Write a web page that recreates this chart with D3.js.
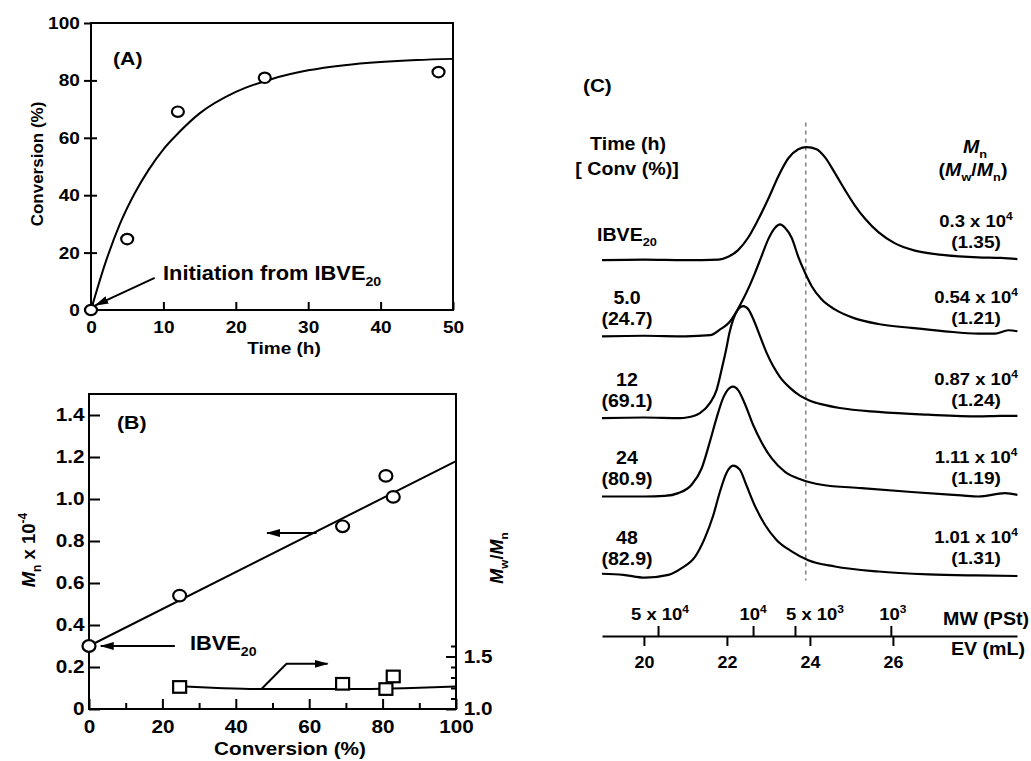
<!DOCTYPE html>
<html><head><meta charset="utf-8">
<script src="https://cdn.jsdelivr.net/npm/d3@7"></script>
<style>
html,body{margin:0;padding:0;background:#fff;}
svg{display:block;font-family:"Liberation Sans",Arial,Helvetica,sans-serif;font-weight:bold;}
</style></head><body>
<svg id="fig" width="1031" height="761"></svg>
<script>
// ---------- (A) conversion vs. time ----------
const timeH   = [0, 5, 12, 24, 48];
const convPct = [0, 24.7, 69.1, 80.9, 82.9];
const convFitT = [0, 2, 4, 6, 8, 10, 12, 15, 20, 25, 30, 35, 40, 45, 50];
const convFitY = [0, 16.5, 30, 40.5, 49, 56, 61.5, 68.5, 76, 80.5, 83.5, 85.3, 86.4, 87.1, 87.5];
const convTicksY = [0, 20, 40, 60, 80, 100];
const timeTicks  = [0, 10, 20, 30, 40, 50];

// ---------- (B) Mn and Mw/Mn vs. conversion ----------
const mnConv = [0, 24.7, 69.1, 80.9, 82.9];
const mnE4   = [0.30, 0.54, 0.87, 1.11, 1.01];
const mnFitX = [0, 100];
const mnFitY = [0.30, 1.18];
const pdiConv = [24.7, 69.1, 80.9, 82.9];
const pdiVal  = [1.21, 1.24, 1.19, 1.31];
const pdiFitX = [25, 35, 46, 60, 75, 88, 100];
const pdiFitY = [1.215, 1.20, 1.19, 1.19, 1.19, 1.20, 1.215];
const mnTicks    = [0, 0.2, 0.4, 0.6, 0.8, 1.0, 1.2, 1.4];
const convTicksX = [0, 20, 40, 60, 80, 100];
const convMinorX = [10, 30, 50, 70, 90];
const pdiTicks   = [1.0, 1.5];
const pdiMinor   = [1.1, 1.2, 1.3, 1.4, 1.6];

// ---------- (C) SEC traces, [elution volume (mL), normalised RI] ----------
const traceIBVE20 = [[18.99,0],[20,0.005],[21,0],[21.8,0.005],[22.03,0.03],[22.27,0.09],[22.51,0.2],[22.75,0.36],[23.0,0.55],[23.24,0.75],[23.48,0.91],[23.72,0.99],[23.92,1.01],[24.16,0.99],[24.36,0.92],[24.6,0.78],[24.84,0.63],[25.08,0.49],[25.33,0.37],[25.65,0.25],[26.05,0.15],[26.53,0.085],[27.25,0.045],[28.05,0.025],[28.6,0.02],[29.0,0.01]];
const trace5h  = [[18.99,0],[20,0.005],[21,0],[21.6,0.01],[21.83,0.06],[22.07,0.13],[22.23,0.22],[22.39,0.33],[22.52,0.43],[22.67,0.56],[22.84,0.72],[23.0,0.87],[23.16,0.97],[23.28,1.0],[23.4,0.97],[23.56,0.88],[23.72,0.71],[23.88,0.57],[24.04,0.45],[24.28,0.33],[24.6,0.24],[25.08,0.16],[25.65,0.11],[26.45,0.075],[27.25,0.045],[28.06,0.024],[28.46,0.024],[28.78,0.054],[29.0,0.045]];
const trace12h = [[18.99,0],[20,0.005],[20.87,0],[21.03,0.005],[21.35,0.045],[21.59,0.134],[21.75,0.25],[21.87,0.43],[21.98,0.61],[22.06,0.76],[22.15,0.88],[22.27,0.97],[22.39,1.0],[22.52,0.97],[22.64,0.88],[22.8,0.73],[22.96,0.58],[23.12,0.46],[23.28,0.366],[23.52,0.27],[23.76,0.2],[24.0,0.155],[24.32,0.12],[24.72,0.09],[25.65,0.055],[26.85,0.03],[28.06,0.015],[28.6,0.02],[29.0,0.02]];
const trace24h = [[18.99,0],[20,0],[20.5,0.005],[20.83,0.03],[21.15,0.105],[21.39,0.25],[21.59,0.49],[21.75,0.7],[21.91,0.88],[22.07,0.97],[22.15,0.98],[22.27,0.95],[22.43,0.83],[22.63,0.64],[22.84,0.48],[23.08,0.34],[23.4,0.22],[23.8,0.15],[24.28,0.105],[25.24,0.075],[26.45,0.04],[27.65,0.01],[28.06,0],[28.7,0.03],[29.0,0.015]];
const trace48h = [[18.99,0.02],[19.5,0.01],[20.02,-0.015],[20.59,0.01],[20.91,0.07],[21.23,0.17],[21.47,0.34],[21.67,0.54],[21.83,0.75],[21.99,0.92],[22.15,0.985],[22.31,0.95],[22.47,0.81],[22.67,0.63],[22.92,0.455],[23.2,0.32],[23.56,0.22],[23.96,0.14],[24.6,0.085],[25.65,0.04],[26.85,0.015],[28,0.005],[29.0,0]];
const traces = [traceIBVE20, trace5h, trace12h, trace24h, trace48h];
const traceOffset = [2.82, 2.14, 1.41, 0.71, 0];
const runTime  = ["IBVE", "5.0", "12", "24", "48"];
const runConv  = [null, "24.7", "69.1", "80.9", "82.9"];
const runMn    = ["0.3", "0.54", "0.87", "1.11", "1.01"];
const runPdi   = ["1.35", "1.21", "1.24", "1.19", "1.31"];
const evTicks  = [20, 22, 24, 26];
const mwTickEV = [20.34, 22.63, 23.64, 25.95];
const mwTickText = [["5 x 10", "4"], ["10", "4"], ["5 x 10", "3"], ["10", "3"]];
const refEV = 23.9;

const svg = d3.select('#fig');
const SX = 1.12; // horizontal stretch of the lettering

function rich(sel, x, y, parts, o = {}) {
  const size = o.size || 17;
  const t = sel.append('text')
    .attr('transform', o.rotate ? `translate(${x},${y}) rotate(${o.rotate})` : `translate(${x},${y}) scale(${SX},1)`)
    .attr('text-anchor', o.anchor || 'middle')
    .attr('font-size', size)
    .attr('fill', '#000');
  if (typeof parts === 'string') parts = [{t: parts}];
  let shift = 0;
  parts.forEach(p => {
    const s = t.append('tspan').text(p.t);
    let target = 0, fs = size;
    if (p.sub) { target = size * 0.3; fs = size * 0.65; }
    if (p.sup) { target = -size * 0.45; fs = size * 0.65; }
    s.attr('font-size', fs).attr('dy', target - shift);
    shift = target;
    if (p.it) s.attr('font-style', 'italic');
  });
  return t;
}

function styleAxis(g, size, keepDomain) {
  g.attr('font-family', null).attr('font-size', size).attr('font-weight', 'bold');
  if (keepDomain) g.select('.domain').attr('stroke', '#000').attr('stroke-width', 2);
  else g.select('.domain').remove();
  g.selectAll('.tick line').attr('stroke', '#000').attr('stroke-width', 2);
  g.selectAll('.tick text').attr('fill', '#000').attr('transform', `scale(${SX},1)`);
}

const defs = svg.append('defs');
defs.append('marker').attr('id', 'arrow')
  .attr('viewBox', '0 0 14 8').attr('refX', 13).attr('refY', 4)
  .attr('markerWidth', 14).attr('markerHeight', 8)
  .attr('markerUnits', 'userSpaceOnUse').attr('orient', 'auto')
  .append('path').attr('d', 'M0,0L14,4L0,8Z').attr('fill', '#000');

// ================= Panel A =================
const xA = d3.scaleLinear().domain([0, 50]).range([91, 453]);
const yA = d3.scaleLinear().domain([0, 100]).range([310, 23]);
const gA = svg.append('g');

gA.append('g').attr('transform', `translate(${xA(0)},0)`)
  .call(d3.axisLeft(yA).tickValues(convTicksY).tickSize(7).tickPadding(3))
  .call(styleAxis, 17);
gA.append('g').attr('transform', `translate(${xA(0)},0)`)
  .call(d3.axisLeft(yA).tickValues(convTicksY.slice(1, -1)).tickSize(-6).tickFormat(''))
  .call(styleAxis, 17);
gA.append('g').attr('transform', `translate(0,${yA(0)})`)
  .call(d3.axisBottom(xA).tickValues(timeTicks).tickSizeInner(-8).tickSizeOuter(0).tickPadding(11))
  .call(styleAxis, 17);
gA.append('rect')
  .attr('x', xA(0)).attr('y', yA(100))
  .attr('width', xA(50) - xA(0)).attr('height', yA(0) - yA(100))
  .attr('fill', 'none').attr('stroke', '#000').attr('stroke-width', 2);

gA.append('path')
  .datum(convFitT.map((t, i) => [t, convFitY[i]]))
  .attr('d', d3.line().x(d => xA(d[0])).y(d => yA(d[1])).curve(d3.curveMonotoneX))
  .attr('fill', 'none').attr('stroke', '#000').attr('stroke-width', 2);

gA.append('line')
  .attr('x1', xA(8.8)).attr('y1', yA(11.2))
  .attr('x2', xA(0.6)).attr('y2', yA(1.6))
  .attr('stroke', '#000').attr('stroke-width', 2).attr('marker-end', 'url(#arrow)');

gA.selectAll('ellipse.pt').data(timeH.map((t, i) => [t, convPct[i]]))
  .join('ellipse').attr('class', 'pt')
  .attr('cx', d => xA(d[0])).attr('cy', d => yA(d[1]))
  .attr('rx', 6).attr('ry', 5.2)
  .attr('fill', '#fff').attr('stroke', '#000').attr('stroke-width', 2.2);

rich(gA, 284, 354, 'Time (h)', {size: 17});
rich(gA, 43, 164, 'Conversion (%)', {size: 17, rotate: -90});
rich(gA, 113, 65, '(A)', {size: 19, anchor: 'start'});
rich(gA, 163, 280, [{t: 'Initiation from IBVE'}, {t: '20', sub: true}], {size: 19.5, anchor: 'start'});

// ================= Panel B =================
const xB = d3.scaleLinear().domain([0, 100]).range([89, 456]);
const yB = d3.scaleLinear().domain([0, 1.5]).range([709, 394]);
const yB2 = d3.scaleLinear().domain([1, 4]).range([709, 394]);
const gB = svg.append('g');

gB.append('g').attr('transform', `translate(${xB(0)},0)`)
  .call(d3.axisLeft(yB).tickValues(mnTicks).tickSize(-11).tickPadding(4)
    .tickFormat(d => d === 0 ? '0' : d3.format('.1f')(d)))
  .call(styleAxis, 18.5);
gB.append('g').attr('transform', `translate(0,${yB(0)})`)
  .call(d3.axisBottom(xB).tickValues(convTicksX).tickSizeInner(-10).tickSizeOuter(0).tickPadding(10.5))
  .call(styleAxis, 18.5);
gB.append('g').attr('transform', `translate(0,${yB(0)})`)
  .call(d3.axisBottom(xB).tickValues(convMinorX).tickSizeInner(-6).tickSizeOuter(0).tickFormat(''))
  .call(styleAxis, 18.5);
gB.append('g').attr('transform', `translate(${xB(100)},0)`)
  .call(d3.axisRight(yB2).tickValues(pdiTicks).tickSizeInner(-10).tickSizeOuter(0).tickPadding(7)
    .tickFormat(d3.format('.1f')))
  .call(styleAxis, 18.5);
gB.append('g').attr('transform', `translate(${xB(100)},0)`)
  .call(d3.axisRight(yB2).tickValues(pdiMinor).tickSizeInner(-5).tickSizeOuter(0).tickFormat(''))
  .call(styleAxis, 18.5);
gB.append('rect')
  .attr('x', xB(0)).attr('y', yB(1.5))
  .attr('width', xB(100) - xB(0)).attr('height', yB(0) - yB(1.5))
  .attr('fill', 'none').attr('stroke', '#000').attr('stroke-width', 2);

gB.append('path')
  .datum(mnFitX.map((x, i) => [x, mnFitY[i]]))
  .attr('d', d3.line().x(d => xB(d[0])).y(d => yB(d[1])))
  .attr('fill', 'none').attr('stroke', '#000').attr('stroke-width', 2);
gB.append('path')
  .datum(pdiFitX.map((x, i) => [x, pdiFitY[i]]))
  .attr('d', d3.line().x(d => xB(d[0])).y(d => yB2(d[1])).curve(d3.curveMonotoneX))
  .attr('fill', 'none').attr('stroke', '#000').attr('stroke-width', 2);

// arrows pointing to each axis
gB.append('line')
  .attr('x1', xB(62)).attr('y1', yB(0.838)).attr('x2', xB(48.5)).attr('y2', yB(0.838))
  .attr('stroke', '#000').attr('stroke-width', 2).attr('marker-end', 'url(#arrow)');
gB.append('line')
  .attr('x1', xB(23.4)).attr('y1', yB(0.30)).attr('x2', xB(3.2)).attr('y2', yB(0.30))
  .attr('stroke', '#000').attr('stroke-width', 2).attr('marker-end', 'url(#arrow)');
gB.append('path')
  .attr('d', d3.line()([[xB(47), yB2(1.19)], [xB(53.8), yB2(1.43)], [xB(65), yB2(1.43)]]))
  .attr('fill', 'none').attr('stroke', '#000').attr('stroke-width', 2).attr('marker-end', 'url(#arrow)');

gB.selectAll('ellipse.mn').data(mnConv.map((c, i) => [c, mnE4[i]]))
  .join('ellipse').attr('class', 'mn')
  .attr('cx', d => xB(d[0])).attr('cy', d => yB(d[1]))
  .attr('rx', 6.5).attr('ry', 5.8)
  .attr('fill', '#fff').attr('stroke', '#000').attr('stroke-width', 2.2);
gB.selectAll('rect.pdi').data(pdiConv.map((c, i) => [c, pdiVal[i]]))
  .join('rect').attr('class', 'pdi')
  .attr('x', d => xB(d[0]) - 6.5).attr('y', d => yB2(d[1]) - 5.8)
  .attr('width', 13).attr('height', 11.6)
  .attr('fill', '#fff').attr('stroke', '#000').attr('stroke-width', 2.2);

rich(gB, 290, 755, 'Conversion (%)', {size: 18.5});
rich(gB, 35, 550, [{t: 'M', it: true}, {t: 'n', sub: true}, {t: ' x 10'}, {t: '-4', sup: true}], {size: 18.5, rotate: -90});
rich(gB, 503, 558, [{t: 'M', it: true}, {t: 'w', sub: true}, {t: '/'}, {t: 'M', it: true}, {t: 'n', sub: true}], {size: 18, rotate: -90});
rich(gB, 117, 429, '(B)', {size: 19, anchor: 'start'});
rich(gB, xB(27.5), 650, [{t: 'IBVE'}, {t: '20', sub: true}], {size: 19.5, anchor: 'start'});

// ================= Panel C =================
const ev = d3.scaleLinear().domain([18.99, 28.99]).range([602, 1017]);
const yC = d3.scaleLinear().domain([0, 1]).range([576, 464]);
const gC = svg.append('g');

gC.append('line')
  .attr('x1', ev(refEV)).attr('x2', ev(refEV))
  .attr('y1', yC(4.05)).attr('y2', yC(-0.04))
  .attr('stroke', '#888').attr('stroke-width', 1.6).attr('stroke-dasharray', '4,4');

const traceLine = d3.line().x(d => ev(d[0])).y(d => d[2]).curve(d3.curveMonotoneX);
traces.forEach((tr, i) => {
  gC.append('path')
    .datum(tr.map(d => [d[0], d[1], yC(d[1] + traceOffset[i])]))
    .attr('d', traceLine)
    .attr('fill', 'none').attr('stroke', '#000').attr('stroke-width', 2.2)
    .attr('stroke-linejoin', 'round');
});

// dual axis: elution volume below, polystyrene-equivalent MW above
const axisY = 636;
gC.append('g').attr('transform', `translate(0,${axisY})`)
  .call(d3.axisBottom(ev).tickValues(evTicks).tickSizeInner(10).tickSizeOuter(0).tickPadding(10.6))
  .call(styleAxis, 16, true);
gC.append('g').attr('transform', `translate(0,${axisY})`)
  .call(d3.axisTop(ev).tickValues(mwTickEV).tickSizeInner(10).tickSizeOuter(0).tickFormat(''))
  .call(styleAxis, 16);
const mwNudge = [2, 0, 20, 2];
mwTickEV.forEach((v, i) => {
  rich(gC, ev(v) + mwNudge[i], axisY - 16, [{t: mwTickText[i][0]}, {t: mwTickText[i][1], sup: true}], {size: 16.5});
});
rich(gC, 1029, 625, 'MW (PSt)', {size: 17.5, anchor: 'end'});
rich(gC, 1025, 655, 'EV (mL)', {size: 17.5, anchor: 'end'});

rich(gC, 583, 92, '(C)', {size: 18.5, anchor: 'start'});
rich(gC, 628, 150, 'Time (h)', {size: 17.5});
rich(gC, 627, 175, '[ Conv (%)]', {size: 17.5});
rich(gC, 975, 153, [{t: 'M', it: true}, {t: 'n', sub: true}], {size: 17.5});
rich(gC, 973, 176, [{t: '('}, {t: 'M', it: true}, {t: 'w', sub: true}, {t: '/'}, {t: 'M', it: true}, {t: 'n', sub: true}, {t: ')'}], {size: 17.5});

traces.forEach((tr, i) => {
  const base = yC(traceOffset[i]);
  if (runConv[i] === null) {
    rich(gC, 597, base - 19, [{t: runTime[i]}, {t: '20', sub: true}], {size: 17.5, anchor: 'start'});
  } else {
    rich(gC, 627, base - 32, runTime[i], {size: 17.5});
    rich(gC, 627, base - 11, `(${runConv[i]})`, {size: 17.5});
  }
  rich(gC, 976, base - 33, [{t: `${runMn[i]} x 10`}, {t: '4', sup: true}], {size: 16.5});
  rich(gC, 976, base - 12, `(${runPdi[i]})`, {size: 17});
});
</script>
</body></html>
